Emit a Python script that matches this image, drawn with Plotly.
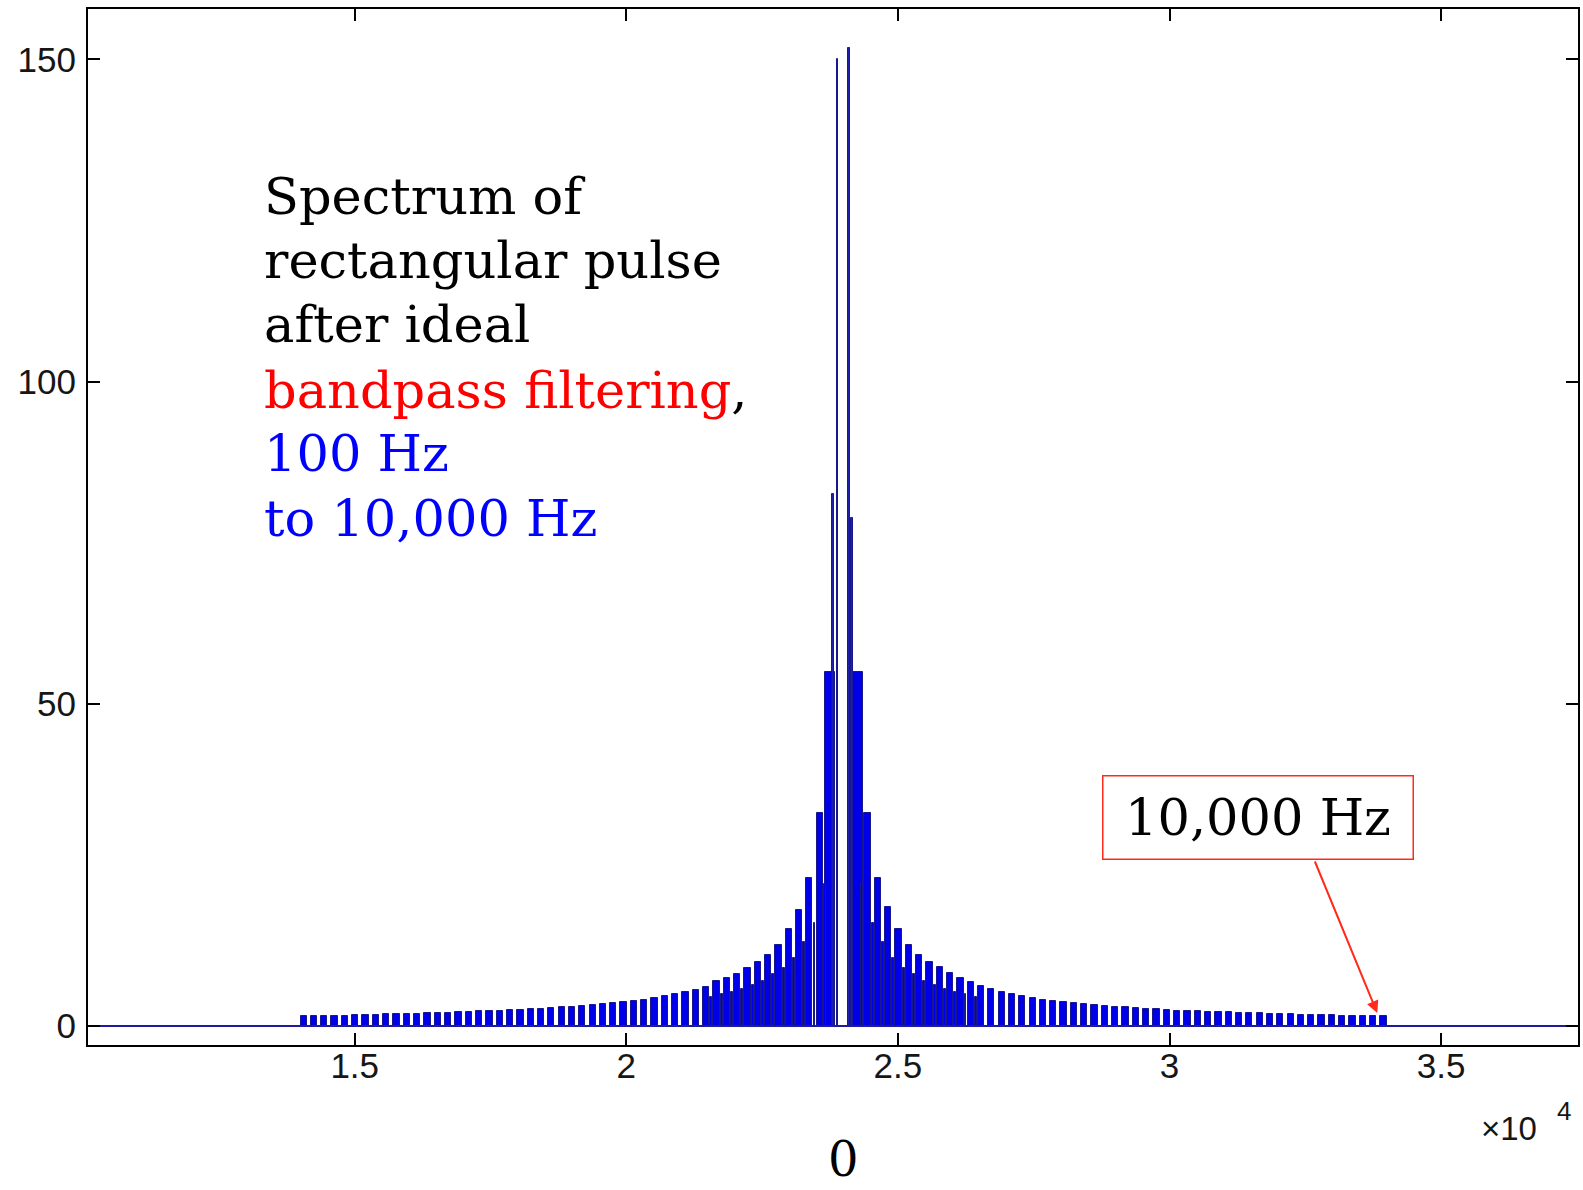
import plotly.graph_objects as go

# ---------------- data ----------------
center_hz = 24000
full_span_hz = [0, 48000]

# main spikes next to the notch at the centre
main_spike_x = [23885, 24100]
main_spike_y = [150.1, 151.7]
second_spike_x = [23805, 24150]
second_spike_y = [82.5, 78.8]

# lobe grid (offset from centre, Hz) and lobe peak heights, left / right side
lobe_offsets = [250 + 190 * k for k in range(52)]
left_heights = [55, 33, 23, 18, 15, 12.6, 11, 10, 9, 8, 7.5, 7, 6, 5.6, 5.2, 5.0,
                4.6, 4.4, 4.1, 3.9, 3.7, 3.6, 3.4, 3.3, 3.1, 3.0, 2.9, 2.8, 2.7, 2.6,
                2.5, 2.45, 2.4, 2.3, 2.25, 2.2, 2.1, 2.05, 2.0, 1.95, 1.9, 1.85, 1.8,
                1.8, 1.75, 1.7, 1.65, 1.6, 1.6, 1.55, 1.5, 1.5]
right_heights = [55, 33, 23, 18.5, 15, 12.5, 11, 10, 9.2, 8.2, 7.4, 6.8, 6.2, 5.7,
                 5.3, 4.9, 4.6, 4.3, 4.1, 3.9, 3.7, 3.5, 3.4, 3.2, 3.1, 3.0, 2.9,
                 2.8, 2.7, 2.6, 2.5, 2.4, 2.35, 2.3, 2.2, 2.15, 2.1, 2.05, 2.0, 1.95,
                 1.9, 1.85, 1.8, 1.75, 1.7, 1.7, 1.65, 1.6, 1.55, 1.55, 1.5, 1.5]
# thinner in-between lobes close to the centre
minor_offsets = [345 + 190 * k for k in range(12)]
minor_heights = [22, 16, 13, 10.5, 9, 8, 7, 6.3, 5.8, 5.3, 4.9, 4.5]

x_tickvals = [15000, 20000, 25000, 30000, 35000]
x_ticktext = ["1.5", "2", "2.5", "3", "3.5"]
y_tickvals = [0, 50, 100, 150]
y_ticktext = ["0", "50", "100", "150"]

text_lines = ["Spectrum of", "rectangular pulse", "after ideal",
              "<span style='color:#ff0000'>bandpass filtering</span>,",
              "<span style='color:#0000ff'>100 Hz</span>",
              "<span style='color:#0000ff'>to 10,000 Hz</span>"]

# ---------------- figure ----------------
W, H = 1583, 1190
ML, MR, MT, MB = 88, 3, 9, 145
PW, PH = W - ML - MR, H - MT - MB

def px(xp):
    return (xp - ML) / PW

def py(yp):
    return (H - MB - yp) / PH

BLUE = "#0000e8"
EDGE = "#18188c"

fig = go.Figure()

fig.add_trace(go.Scatter(x=full_span_hz, y=[0, 0], mode="lines",
                         line=dict(color="#1c1c9c", width=2), hoverinfo="skip"))

lx = [center_hz - o for o in lobe_offsets] + [center_hz + o for o in lobe_offsets]
ly = left_heights + right_heights
widths = [(200 if i % 52 == 0 else 115) for i in range(len(lx))]
fig.add_trace(go.Bar(x=lx, y=ly, width=widths, marker=dict(color=BLUE, line=dict(color=EDGE, width=1))))

mx = [center_hz - o for o in minor_offsets] + [center_hz + o for o in minor_offsets]
my = minor_heights + minor_heights
fig.add_trace(go.Bar(x=mx, y=my, width=35, marker=dict(color=BLUE, line=dict(color=EDGE, width=1))))

fig.add_trace(go.Bar(x=second_spike_x + main_spike_x, y=second_spike_y + main_spike_y, width=30,
                     marker=dict(color="#2020b0", line=dict(color=EDGE, width=1))))

TICKFONT = dict(family="Liberation Sans, Arial", size=35, color="#161616")
fig.update_layout(
    width=W, height=H, margin=dict(l=ML, r=MR, t=MT, b=MB),
    paper_bgcolor="white", plot_bgcolor="white", showlegend=False,
    barmode="overlay", bargap=0,
    font=TICKFONT,
)
axis_common = dict(showline=True, linecolor="black", linewidth=2, mirror="ticks",
                   ticks="inside", ticklen=12, tickwidth=2, tickcolor="black",
                   showgrid=False, zeroline=False, tickfont=TICKFONT)
fig.update_xaxes(range=[10090, 37520], tickvals=x_tickvals, ticktext=x_ticktext,
                 ticklabelstandoff=-11, **axis_common)
fig.update_yaxes(range=[-2.95, 157.8], tickvals=y_tickvals, ticktext=y_ticktext,
                 ticklabelstandoff=3, **axis_common)

SERIF = "DejaVu Serif"
line_mid_y = [197, 260, 325, 390, 453, 518]
for t, yy in zip(text_lines, line_mid_y):
    fig.add_annotation(xref="paper", yref="paper", x=px(262), y=py(yy), xanchor="left",
                       yanchor="middle", text=t, showarrow=False, align="left",
                       font=dict(family=SERIF, size=51, color="black"))

fig.add_annotation(xref="paper", yref="paper", x=px(1260), y=py(818), xanchor="center", yanchor="middle",
                   text="10,000 Hz", showarrow=False, width=305, height=78, borderpad=2,
                   bordercolor="#ff2a1a", borderwidth=1.5, bgcolor="white",
                   font=dict(family=SERIF, size=51, color="black"))

fig.add_annotation(xref="paper", yref="paper", x=px(1379), y=py(1013), text="",
                   showarrow=True, axref="pixel", ayref="pixel", ax=-63, ay=-153,
                   arrowhead=2, arrowsize=1.2, arrowwidth=2, arrowcolor="#ff2a1a")

fig.add_annotation(xref="paper", yref="paper", x=px(1511), y=py(1128), text="×10",
                   xanchor="center", yanchor="middle", showarrow=False,
                   font=dict(family="Liberation Sans, Arial", size=33, color="#161616"))
fig.add_annotation(xref="paper", yref="paper", x=px(1566), y=py(1111), text="4",
                   xanchor="center", yanchor="middle", showarrow=False,
                   font=dict(family="Liberation Sans, Arial", size=26, color="#161616"))

fig.add_annotation(xref="paper", yref="paper", x=px(845), y=py(1189), text="0",
                   xanchor="center", yanchor="bottom", showarrow=False,
                   font=dict(family=SERIF, size=48, color="black"))

fig.write_html("out.html")
